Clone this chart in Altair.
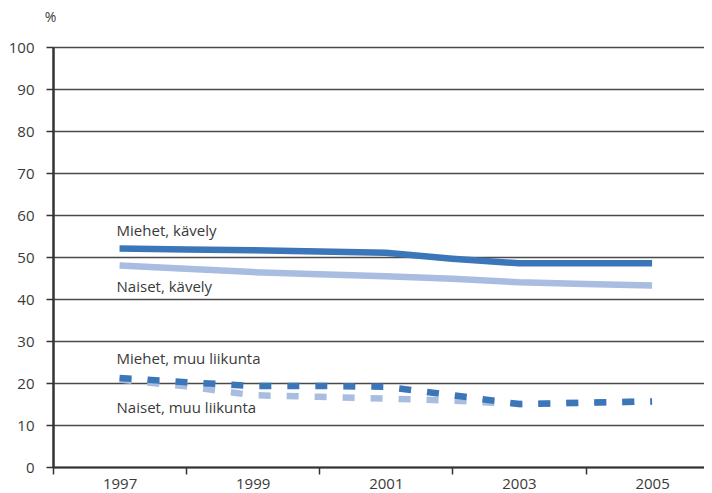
import altair as alt
import pandas as pd

years = [1997, 1998, 1999, 2000, 2001, 2002, 2003, 2004, 2005]
miehet_kavely = [52.0, 51.8, 51.6, 51.3, 51.0, 49.6, 48.5, 48.5, 48.5]
naiset_kavely = [48.0, 47.2, 46.4, 45.9, 45.4, 44.8, 44.0, 43.6, 43.2]
miehet_muu = [21.2, 20.2, 19.3, 19.3, 19.1, 17.1, 15.0, 15.3, 15.6]
naiset_muu = [20.8, 19.2, 17.1, 16.7, 16.3, 15.8, 15.0, 15.3, 15.6]

names = ["Miehet, kävely", "Naiset, kävely", "Miehet, muu liikunta", "Naiset, muu liikunta"]

DARK = "#3b76b8"
LIGHT = "#a9bde0"
FONT = "Open Sans"
TXT = "#3a3a3a"
FS = 15

def frame(name, vals):
    return pd.DataFrame({"year": years, "value": vals, "series": name})

x_scale = alt.Scale(domain=[1996, 2005.78], nice=False, zero=False)
y_scale = alt.Scale(domain=[0, 100], nice=False)

x_axis = alt.Axis(
    values=list(range(1996, 2006)),
    format="d",
    labelExpr="datum.value % 2 == 1 ? datum.label : ''",
    tickOpacity={"condition": {"test": "datum.value % 2 == 0", "value": 1}, "value": 0},
    tickSize=7, tickWidth=1.5, tickColor="#333333",
    domainColor="#333333", domainWidth=2,
    labelFont=FONT, labelFontSize=FS, labelColor=TXT, labelPadding=2,
    grid=False, title=None,
)
y_axis = alt.Axis(
    values=list(range(0, 101, 10)),
    tickSize=7, tickWidth=1.5, tickColor="#333333",
    domainColor="#333333", domainWidth=2.5,
    labelFont=FONT, labelFontSize=FS, labelColor=TXT, labelPadding=12,
    grid=True, gridColor="#4a4a4a", gridWidth=1.5,
    title="%", titleAngle=0, titleX=-3, titleY=-30, titleAlign="center",
    titleBaseline="middle", titleFont=FONT, titleFontSize=14,
    titleFontWeight="normal", titleColor=TXT,
)

def line(name, vals, color, dash=None):
    kw = dict(color=color, strokeWidth=6.5, clip=True)
    if dash:
        kw["strokeDash"] = dash
        kw["strokeCap"] = "butt"
    return alt.Chart(frame(name, vals)).mark_line(**kw).encode(
        x=alt.X("year:Q", scale=x_scale, axis=x_axis),
        y=alt.Y("value:Q", scale=y_scale, axis=y_axis),
    )

def label(name, vals, dy):
    d = frame(name, vals).iloc[[0]]
    return alt.Chart(d).mark_text(
        align="left", baseline="middle", dx=-3, dy=dy,
        font=FONT, fontSize=FS, color=TXT,
    ).encode(
        x=alt.X("year:Q", scale=x_scale),
        y=alt.Y("value:Q", scale=y_scale),
        text="series:N",
    )

layers = [
    line(names[3], naiset_muu, LIGHT, [12, 16]),
    line(names[2], miehet_muu, DARK, [12, 16]),
    line(names[1], naiset_kavely, LIGHT),
    line(names[0], miehet_kavely, DARK),
    label(names[0], miehet_kavely, -18),
    label(names[1], naiset_kavely, 22),
    label(names[2], miehet_muu, -19),
    label(names[3], naiset_muu, 28),
]

chart = alt.layer(*layers).properties(
    width=651, height=420,
    autosize=alt.AutoSizeParams(type="none"),
    padding={"left": 45, "top": 39, "right": 0, "bottom": 26},
).configure_view(stroke=None).configure(background="white")

chart.save("out.html", embed_options={"renderer": "svg", "actions": False})
